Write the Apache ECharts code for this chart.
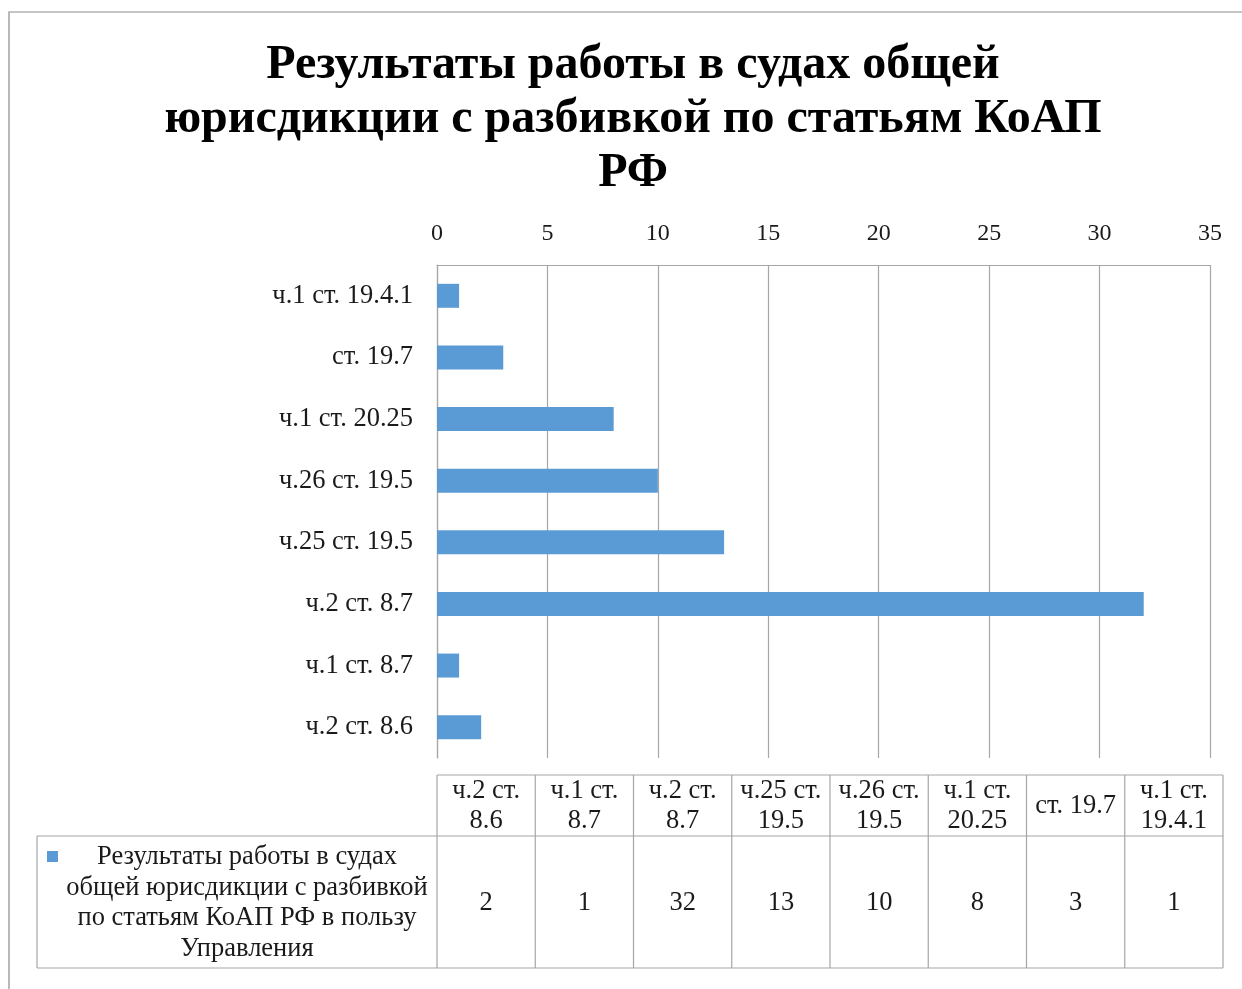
<!DOCTYPE html>
<html>
<head>
<meta charset="utf-8">
<script src="https://cdn.jsdelivr.net/npm/echarts@6/dist/echarts.min.js"></script>
<style>html,body{margin:0;padding:0;background:#fff}#c{width:1242px;height:989px}</style>
</head>
<body>
<div id="c"></div>
<script>
const titleText = 'Результаты работы в судах общей\nюрисдикции с разбивкой по статьям КоАП\nРФ';
const categories = ['ч.2 ст. 8.6', 'ч.1 ст. 8.7', 'ч.2 ст. 8.7', 'ч.25 ст. 19.5', 'ч.26 ст. 19.5', 'ч.1 ст. 20.25', 'ст. 19.7', 'ч.1 ст. 19.4.1'];
const values = [2, 1, 32, 13, 10, 8, 3, 1];
const seriesNameLines = ['Результаты работы в судах', 'общей юрисдикции с разбивкой', 'по статьям КоАП РФ в пользу', 'Управления'];
const xTicks = { min: 0, max: 35, interval: 5 };

const FONT = '"Liberation Serif", "Times New Roman", serif';
const BAR = '#5B9BD5';
const GRID = '#A6A6A6';
const TXT = '#1a1a1a';
const FS = 26.5;

const chart = echarts.init(document.getElementById('c'), null, { renderer: 'canvas' });

// table layout
const tLeft = 37, tCol0 = 437, tRight = 1223, hTop = 775, hBot = 836, dBot = 968;
const colW = (tRight - tCol0) / categories.length;
const g = [];
g.push({ type: 'rect', shape: { x: 9, y: 12, width: 1400, height: 1200 }, style: { fill: null, stroke: '#8c8c8c', lineWidth: 1.2 }, silent: true });
const ls = { stroke: GRID, lineWidth: 1.2 };
g.push({ type: 'line', shape: { x1: tCol0, y1: hTop, x2: tRight, y2: hTop }, style: ls });
g.push({ type: 'line', shape: { x1: tLeft, y1: hBot, x2: tRight, y2: hBot }, style: ls });
g.push({ type: 'line', shape: { x1: tLeft, y1: dBot, x2: tRight, y2: dBot }, style: ls });
g.push({ type: 'line', shape: { x1: tLeft, y1: hBot, x2: tLeft, y2: dBot }, style: ls });
for (let i = 0; i <= categories.length; i++) {
  const x = tCol0 + i * colW;
  g.push({ type: 'line', shape: { x1: x, y1: hTop, x2: x, y2: dBot }, style: ls });
}
categories.forEach((c, i) => {
  const cx = tCol0 + (i + 0.5) * colW;
  const hdr = c.length > 8 ? c.replace(/ (\S+)$/, '\n$1') : c;
  g.push({ type: 'text', x: cx, y: (hTop + hBot) / 2 + 1, style: { text: hdr, font: FS + 'px ' + FONT, fill: TXT, align: 'center', verticalAlign: 'middle', lineHeight: 30 } });
  g.push({ type: 'text', x: cx, y: (hBot + dBot) / 2 + 1, style: { text: String(values[i]), font: FS + 'px ' + FONT, fill: TXT, align: 'center', verticalAlign: 'middle' } });
});
g.push({ type: 'rect', shape: { x: 47, y: 851, width: 11, height: 11 }, style: { fill: BAR } });
g.push({ type: 'text', x: 247, y: (hBot + dBot) / 2 + 1, style: { text: seriesNameLines.join('\n'), font: FS + 'px ' + FONT, fill: TXT, align: 'center', verticalAlign: 'middle', lineHeight: 30.5 } });

chart.setOption({
  animation: false,
  backgroundColor: '#fff',
  title: {
    text: titleText,
    left: 628, top: 34, textAlign: 'center',
    textStyle: { fontFamily: FONT, fontWeight: 'bold', fontSize: 48, lineHeight: 54, color: '#000' }
  },
  grid: { left: 437, top: 265, width: 773, height: 493, containLabel: false },
  xAxis: {
    type: 'value', position: 'top', min: xTicks.min, max: xTicks.max, interval: xTicks.interval,
    axisLine: { show: true, lineStyle: { color: GRID, width: 1.2 } },
    axisTick: { show: false },
    axisLabel: { fontFamily: FONT, fontSize: 24, color: TXT, margin: 19 },
    splitLine: { show: true, lineStyle: { color: GRID, width: 1.2 } }
  },
  yAxis: {
    type: 'category', data: categories,
    axisLine: { show: true, lineStyle: { color: GRID, width: 1.2 } },
    axisTick: { show: false },
    axisLabel: { fontFamily: FONT, fontSize: FS, color: TXT, margin: 24 }
  },
  series: [{
    type: 'bar', name: seriesNameLines.join(' '), data: values, barWidth: 24,
    itemStyle: { color: BAR }
  }],
  graphic: g
});
</script>
</body>
</html>
